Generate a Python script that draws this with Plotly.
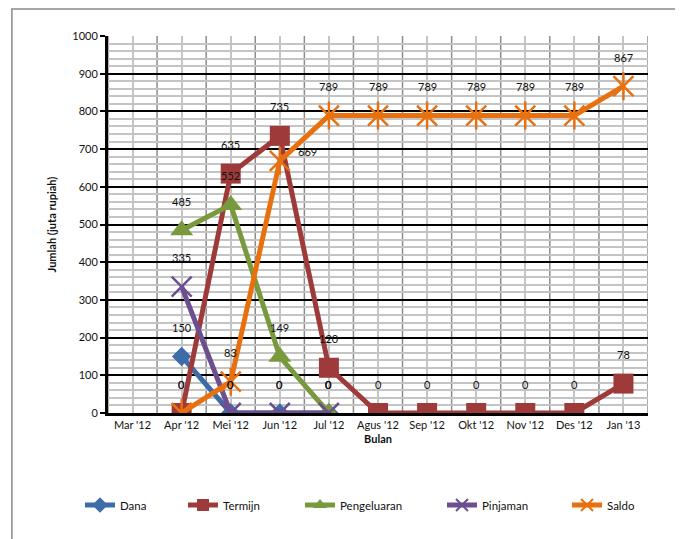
import plotly.graph_objects as go

months = ["Mar '12", "Apr '12", "Mei '12", "Jun '12", "Jul '12", "Agus '12",
          "Sep '12", "Okt '12", "Nov '12", "Des '12", "Jan '13"]
dana = [None, 150, 0, 0, 0, None, None, None, None, None, None]
termijn = [None, 0, 635, 735, 120, 0, 0, 0, 0, 0, 78]
pengeluaran = [None, 485, 552, 149, 0, None, None, None, None, None, None]
pinjaman = [None, 335, 0, 0, 0, None, None, None, None, None, None]
saldo = [None, 0, 83, 669, 789, 789, 789, 789, 789, 789, 867]

y_ticks = list(range(0, 1001, 100))

FONT = "Lato"
series = [
    ("Dana", dana, "#3C6DA8", dict(symbol="diamond", size=15)),
    ("Termijn", termijn, "#9E3B3A", dict(symbol="square", size=20)),
    ("Pengeluaran", pengeluaran, "#78993C", dict(symbol="triangle-up", size=20)),
    ("Pinjaman", pinjaman, "#6B4F8F", dict(symbol="x-thin-open", size=20, line=dict(width=2.5))),
    ("Saldo", saldo, "#E8700E", dict(symbol="x-thin-open", size=20, line=dict(width=2.5))),
]
# horizontal anchor (container pixels) of each legend entry
legend_x = [72, 175, 292, 434, 559]

fig = go.Figure()
legend_layouts = {}
for i, (name, vals, col, mk) in enumerate(series):
    m = dict(mk)
    m["color"] = col
    if "line" in m:
        m["line"] = dict(m["line"], color=col)
    lg = "legend" if i == 0 else f"legend{i + 1}"
    legend_layouts[lg] = dict(
        xref="container", x=legend_x[i] / 683, xanchor="left",
        yref="container", y=1 - 497 / 539, yanchor="middle",
        orientation="h", itemsizing="constant",
        font=dict(family=FONT, size=11.5), bgcolor="rgba(0,0,0,0)",
    )
    fig.add_trace(go.Scatter(
        x=months, y=vals, name=name, mode="lines+markers", legend=lg,
        line=dict(color=col, width=5), marker=m, connectgaps=False,
    ))
    if name == "Saldo":
        # vertical stroke completing the six-armed asterisk marker
        fig.add_trace(go.Scatter(
            x=months, y=vals, mode="markers", showlegend=False, hoverinfo="skip",
            marker=dict(symbol="line-ns-open", size=20, color=col, line=dict(width=2.5, color=col)),
        ))

annotations = []
for name, vals, col, mk in series:
    for m_, v in zip(months, vals):
        if v is None:
            continue
        xs, ys = 0, 29
        if name == "Saldo" and v == 669:
            xs, ys = 28, 9
        annotations.append(dict(
            x=m_, y=v, xref="x", yref="y", text=str(v), showarrow=False,
            xshift=xs, yshift=ys, font=dict(family=FONT, size=11, color="#111111"),
        ))

shapes = []
for k in range(len(months) + 1):
    shapes.append(dict(type="line", xref="x", yref="paper", x0=k - 0.5, x1=k - 0.5,
                       y0=0, y1=1, line=dict(color="#8C8C8C", width=1.5), layer="below"))
# outer chart frame
shapes.append(dict(type="rect", xref="paper", yref="paper",
                   x0=-0.178, x1=1.054, y0=-0.45, y1=1.0716,
                   line=dict(color="#8A8A8A", width=1.5), fillcolor="rgba(0,0,0,0)"))

fig.update_layout(
    width=683, height=539,
    margin=dict(l=100, r=43, t=28, b=134, autoexpand=False),
    paper_bgcolor="white", plot_bgcolor="white",
    font=dict(family=FONT, size=11, color="#111111"),
    showlegend=True,
    annotations=annotations,
    shapes=shapes,
    xaxis=dict(
        type="category", categoryorder="array", categoryarray=months,
        range=[-0.5, len(months) - 0.5],
        showgrid=True, gridcolor="#C4C4C4", gridwidth=1.5,
        showline=True, linecolor="black", linewidth=3,
        ticks="", tickfont=dict(family=FONT, size=11),
        title=dict(text="Bulan", font=dict(family=FONT, size=11, weight="bold"), standoff=6),
        zeroline=False,
    ),
    yaxis=dict(
        range=[0, 1000], tickvals=y_ticks, ticktext=[str(t) for t in y_ticks],
        showgrid=True, gridcolor="black", gridwidth=1.5,
        minor=dict(dtick=20, showgrid=True, gridcolor="#C4C4C4", gridwidth=1.5, ticks=""),
        showline=True, linecolor="black", linewidth=3,
        ticks="outside", ticklen=5, tickwidth=2, tickcolor="black",
        tickfont=dict(family=FONT, size=11),
        title=dict(text="Jumlah (juta rupiah)", font=dict(family=FONT, size=11, weight="bold"), standoff=14),
        zeroline=False,
    ),
)
fig.update_layout(**legend_layouts)

fig.write_html("out.html")
